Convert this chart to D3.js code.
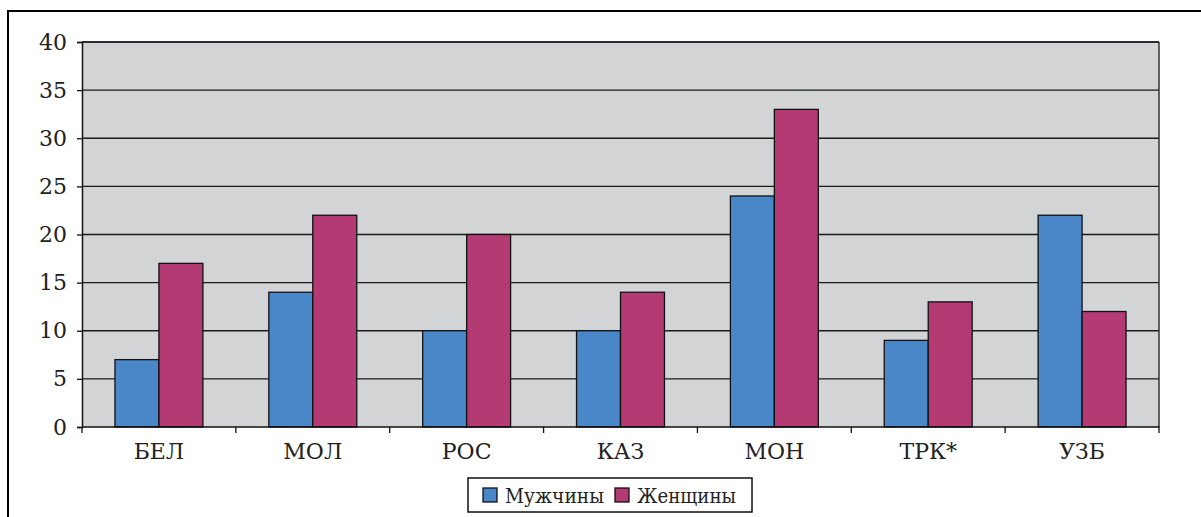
<!DOCTYPE html>
<html><head><meta charset="utf-8">
<script src="https://cdn.jsdelivr.net/npm/d3@7"></script>
<style>body{margin:0;background:#fff;} svg text{font-family:"DejaVu Serif",serif !important;fill:#222;}</style>
</head><body>
<svg id="c" width="1201" height="517"></svg>
<script>
const categories = ["БЕЛ","МОЛ","РОС","КАЗ","МОН","ТРК*","УЗБ"];
const seriesNames = ["Мужчины","Женщины"];
const men = [7,14,10,10,24,9,22];
const women = [17,22,20,14,33,13,12];
const yTicks = [0,5,10,15,20,25,30,35,40];
const colors = ["#4a87c8","#b43a73"];

const svg = d3.select("#c");
const L=82,R=1159,T=42,B=427;

svg.append("rect").attr("x",8).attr("y",11).attr("width",1300).attr("height",600)
  .attr("fill","none").attr("stroke","#000").attr("stroke-width",2);

const x = d3.scaleBand().domain(categories).range([L,R]).padding(0);
const inner = d3.scaleBand().domain(seriesNames).range([0,x.bandwidth()]).paddingInner(0).paddingOuter(0.75);
const y = d3.scaleLinear().domain([0,40]).range([B,T]);

svg.append("rect").attr("x",L).attr("y",T).attr("width",R-L).attr("height",B-T).attr("fill","#d3d4d6");

svg.append("g").selectAll("line").data(yTicks.filter(d=>d>0)).join("line")
  .attr("x1",L).attr("x2",R).attr("y1",d=>y(d)).attr("y2",d=>y(d))
  .attr("stroke","#1a1a1a").attr("stroke-width",1.3);

const data = categories.map((c,i)=>({c, vals:[men[i],women[i]]}));
const g = svg.append("g").selectAll("g").data(data).join("g").attr("transform",d=>`translate(${x(d.c)},0)`);
g.selectAll("rect").data(d=>d.vals.map((v,j)=>({s:seriesNames[j],v,j}))).join("rect")
  .attr("x",d=>inner(d.s)).attr("width",inner.bandwidth())
  .attr("y",d=>y(d.v)).attr("height",d=>B-y(d.v))
  .attr("fill",d=>colors[d.j]).attr("stroke","#111").attr("stroke-width",1.3);

svg.append("line").attr("x1",R).attr("x2",R).attr("y1",T).attr("y2",B).attr("stroke","#333").attr("stroke-width",1.5);
svg.append("line").attr("x1",L).attr("x2",R).attr("y1",T).attr("y2",T).attr("stroke","#222").attr("stroke-width",1.3);

const ya = d3.axisLeft(y).tickValues(yTicks).tickSize(5).tickPadding(10);
const yg = svg.append("g").attr("transform",`translate(${L},0)`).call(ya);
yg.select(".domain").attr("stroke","#111").attr("stroke-width",1.5);
yg.selectAll(".tick line").attr("stroke","#111").attr("stroke-width",1.3);
yg.selectAll("text").attr("font-size",22).attr("fill","#222");

const xg = svg.append("g").attr("transform",`translate(0,${B})`);
xg.append("line").attr("x1",L).attr("x2",R+0.5).attr("stroke","#111").attr("stroke-width",1.5);
xg.selectAll("line.t").data(categories.concat(["_end"])).join("line").attr("class","t")
  .attr("x1",(d,i)=>L+i*x.bandwidth()).attr("x2",(d,i)=>L+i*x.bandwidth())
  .attr("y1",0).attr("y2",6).attr("stroke","#111").attr("stroke-width",1.3);
xg.selectAll("text").data(categories).join("text")
  .attr("x",d=>x(d)+x.bandwidth()/2).attr("y",32).attr("text-anchor","middle")
  .attr("font-size",22).text(d=>d);

const lg = svg.append("g");
lg.append("rect").attr("x",468).attr("y",478).attr("width",284).attr("height",34)
  .attr("fill","#fff").attr("stroke","#111").attr("stroke-width",1.5);
const items = [{n:seriesNames[0],c:colors[0],x:483},{n:seriesNames[1],c:colors[1],x:615}];
items.forEach(it=>{
  lg.append("rect").attr("x",it.x).attr("y",488).attr("width",14).attr("height",14)
    .attr("fill",it.c).attr("stroke","#111").attr("stroke-width",1.3);
  lg.append("text").attr("x",it.x+22).attr("y",503).attr("font-size",20.5)
    .attr("textLength",99).attr("lengthAdjust","spacingAndGlyphs").text(it.n);
});
</script>
</body></html>
